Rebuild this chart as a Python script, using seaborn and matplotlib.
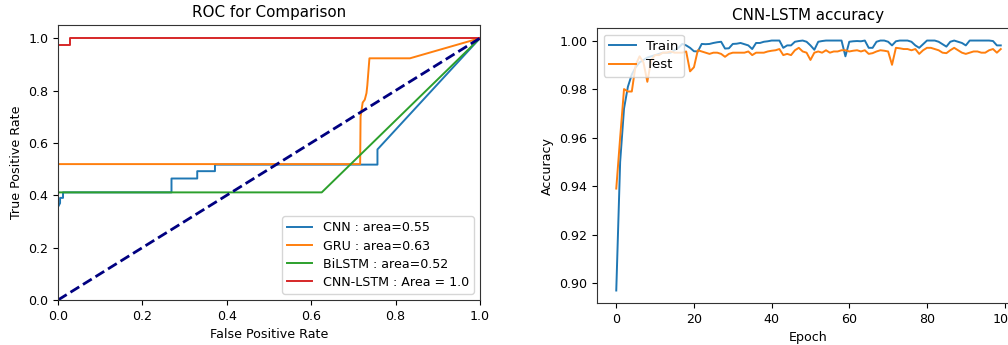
import numpy as np
import pandas as pd
import matplotlib
matplotlib.use("Agg")
import matplotlib.pyplot as plt
import seaborn as sns

# ROC curves (fpr, tpr)
cnn_fpr = [0.0, 0.0, 0.005, 0.005, 0.012, 0.012, 0.269, 0.269, 0.330, 0.330, 0.372, 0.372, 0.757, 0.757, 1.0]
cnn_tpr = [0.0, 0.355, 0.37, 0.39, 0.39, 0.411, 0.411, 0.464, 0.464, 0.492, 0.492, 0.517, 0.517, 0.575, 1.0]

gru_fpr = [0.0, 0.0, 0.716, 0.717, 0.722, 0.727, 0.731, 0.733, 0.738, 0.834, 1.0]
gru_tpr = [0.0, 0.519, 0.519, 0.70, 0.754, 0.765, 0.79, 0.82, 0.923, 0.923, 1.0]

bilstm_fpr = [0.0, 0.0, 0.625, 1.0]
bilstm_tpr = [0.0, 0.411, 0.411, 1.0]

cnnlstm_fpr = [0.0, 0.0, 0.028, 0.028, 1.0]
cnnlstm_tpr = [0.0, 0.975, 0.975, 1.0, 1.0]

roc_labels = ["CNN : area=0.55", "GRU : area=0.63", "BiLSTM : area=0.52", "CNN-LSTM : Area = 1.0"]

# CNN-LSTM training history
epochs = list(range(100))
train_acc = [
    0.897, 0.950, 0.972, 0.981, 0.986, 0.989, 0.991, 0.992, 0.993, 0.9935,
    0.994, 0.9945, 0.995, 0.995, 0.995, 0.996, 0.997, 0.9986, 0.998, 0.997,
    0.9956, 0.9955, 0.9986, 0.9985, 0.9986, 0.999, 0.9993, 0.9995, 0.9967, 0.9968,
    0.9986, 0.9987, 0.999, 0.9985, 0.998, 0.9965, 0.999, 0.999, 0.9995, 0.9997,
    1.000, 1.000, 1.000, 0.997, 0.998, 0.998, 0.9995, 0.9998, 1.000, 0.9995,
    0.998, 0.9962, 0.9995, 0.9998, 1.000, 1.000, 1.000, 1.000, 1.000, 0.9935,
    0.9995, 0.9997, 0.9998, 0.9997, 1.000, 0.997, 0.997, 0.9995, 1.000, 1.000,
    0.9995, 0.998, 0.9997, 1.000, 1.000, 1.000, 0.9995, 0.998, 0.997, 0.9985,
    1.000, 1.000, 1.000, 0.9995, 0.9985, 0.9975, 0.9995, 1.000, 0.9995, 0.999,
    0.998, 1.000, 1.000, 1.000, 1.000, 1.000, 1.000, 0.9998, 0.998, 0.998,
]
test_acc = [
    0.939, 0.960, 0.980, 0.979, 0.979, 0.990, 0.9935, 0.991, 0.983, 0.992,
    0.994, 0.994, 0.995, 0.995, 0.9955, 0.995, 0.995, 0.995, 0.9955, 0.9873,
    0.989, 0.996, 0.9955, 0.995, 0.9945, 0.995, 0.995, 0.9945, 0.9933, 0.9945,
    0.995, 0.995, 0.995, 0.995, 0.9955, 0.994, 0.995, 0.995, 0.995, 0.9955,
    0.9958, 0.996, 0.9965, 0.994, 0.9945, 0.994, 0.996, 0.997, 0.9955, 0.995,
    0.992, 0.995, 0.9955, 0.995, 0.996, 0.995, 0.9955, 0.9955, 0.996, 0.996,
    0.9955, 0.9958, 0.996, 0.9955, 0.996, 0.9945, 0.9948, 0.9955, 0.996, 0.9958,
    0.9955, 0.990, 0.997, 0.9968, 0.9965, 0.9965, 0.996, 0.9965, 0.9945, 0.996,
    0.997, 0.997, 0.9965, 0.996, 0.995, 0.9948, 0.996, 0.997, 0.996, 0.995,
    0.9945, 0.995, 0.9955, 0.9955, 0.995, 0.995, 0.996, 0.9965, 0.995, 0.9965,
]

plt.rcParams["font.size"] = 9.1
plt.rcParams["lines.linewidth"] = 1.4
plt.rcParams["axes.edgecolor"] = "#333333"

fig = plt.figure(figsize=(10.08, 3.45), dpi=100)

# ROC comparison
ax1 = fig.add_axes([0.0575, 0.1304, 0.4187, 0.797])
curves = [(cnn_fpr, cnn_tpr), (gru_fpr, gru_tpr), (bilstm_fpr, bilstm_tpr), (cnnlstm_fpr, cnnlstm_tpr)]
colors = ["#1f77b4", "#ff7f0e", "#2ca02c", "#d62728"]
for (fx, ty), lab, col in zip(curves, roc_labels, colors):
    sns.lineplot(x=fx, y=ty, sort=False, estimator=None, color=col, label=lab, ax=ax1)
sns.lineplot(x=[0, 1], y=[0, 1], color="navy", linestyle="--", linewidth=2, ax=ax1)
ax1.set_xlim(0, 1.0)
ax1.set_ylim(0, 1.05)
ax1.set_xticks(np.arange(0, 1.01, 0.2))
ax1.set_yticks(np.arange(0, 1.01, 0.2))
ax1.set_title("ROC for Comparison")
ax1.set_xlabel("False Positive Rate")
ax1.set_ylabel("True Positive Rate")
ax1.legend(loc="lower right", labelspacing=0.4)

# accuracy history
ax2 = fig.add_axes([0.5923, 0.1217, 0.4196, 0.797])
sns.lineplot(x=epochs, y=train_acc, color="#1f77b4", label="Train", ax=ax2)
sns.lineplot(x=epochs, y=test_acc, color="#ff7f0e", label="Test", ax=ax2)
ax2.set_title("CNN-LSTM accuracy")
ax2.set_xlabel("Epoch")
ax2.set_ylabel("Accuracy")
ax2.legend(loc="upper left", fontsize=9.6, labelspacing=0.4)

fig.savefig("out.png", dpi=100)
